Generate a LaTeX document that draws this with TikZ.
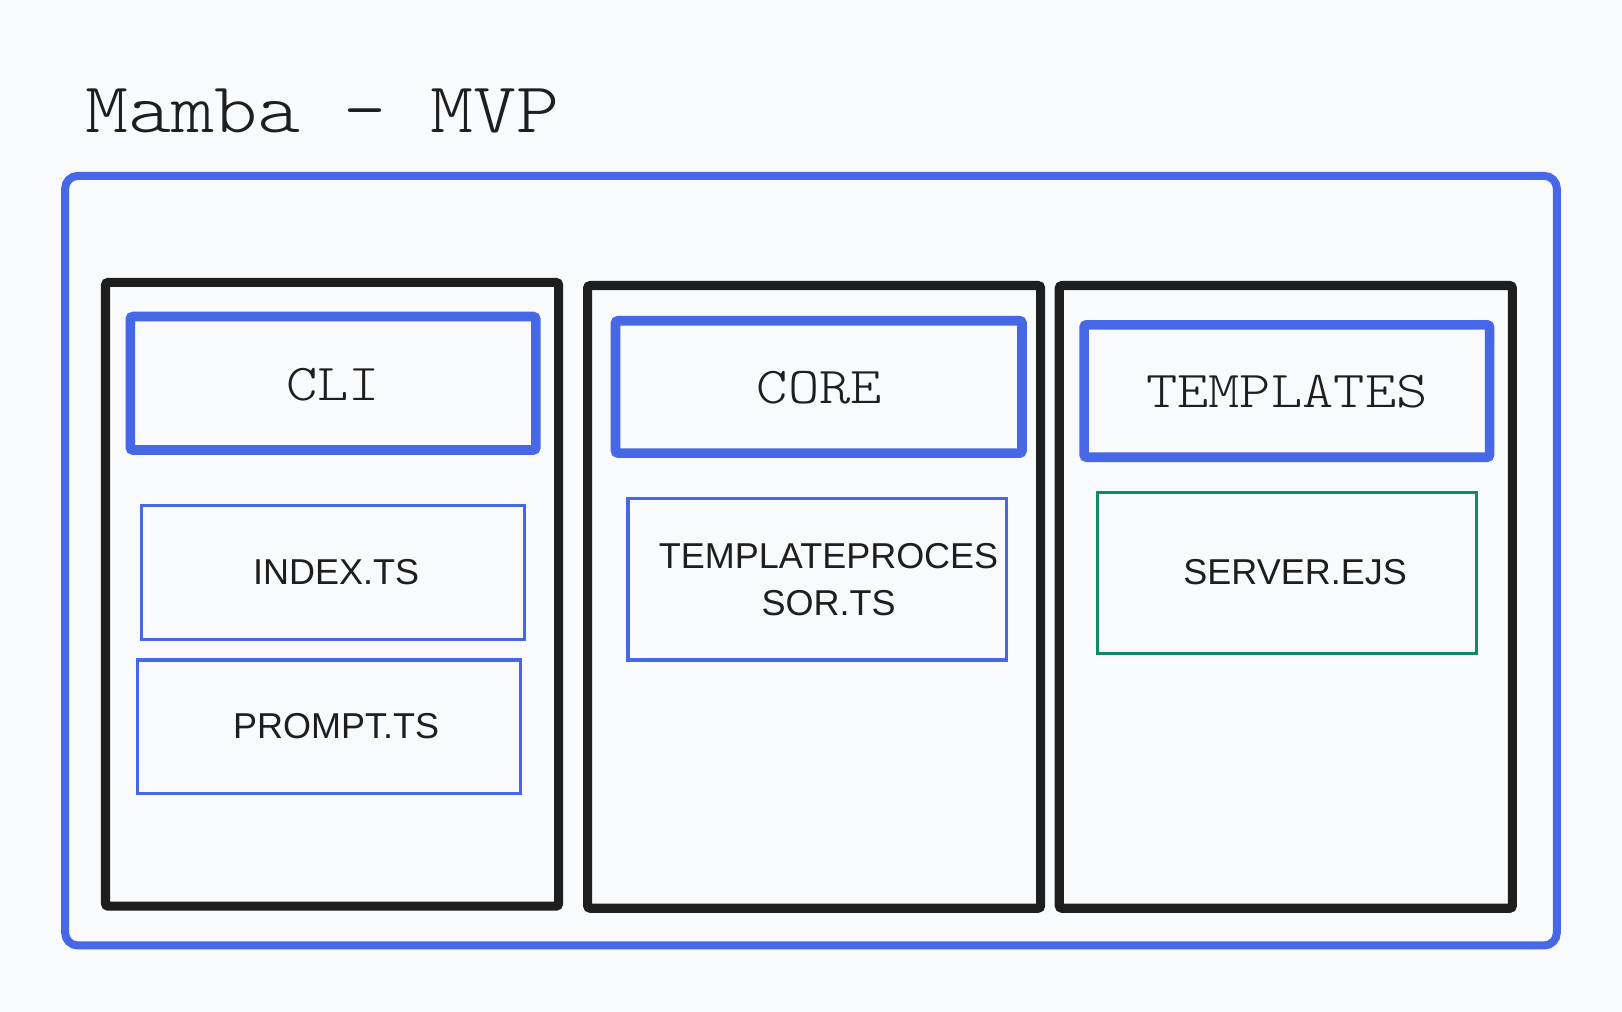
\documentclass[tikz,border=0pt]{standalone}
\usepackage{fontspec}
\setmainfont{Liberation Sans}
\newfontfamily\courierfont[FakeStretch=1.15]{lmmonolt10-regular.otf}
\definecolor{bgwhite}{RGB}{249,250,252}
\definecolor{boxblue}{RGB}{70,104,230}
\definecolor{inkblack}{RGB}{30,30,30}
\definecolor{boxgreen}{RGB}{16,138,98}

\begin{document}
\begin{tikzpicture}[x=0.02cm, y=-0.02cm,
	outerbox/.style={draw=boxblue, line width=4.4pt, rounded corners=7pt},
	colbox/.style={draw=inkblack, line width=5pt, rounded corners=1.5pt},
	headbox/.style={draw=boxblue, line width=5.3pt, rounded corners=1.5pt},
	filebox/.style={draw=boxblue, line width=1.8pt},
	headtext/.style={text=inkblack, font=\courierfont\fontsize{28.5}{34}\selectfont},
	filetext/.style={text=inkblack, font=\fontsize{19.8}{26}\selectfont, align=center}]
	\fill[bgwhite] (0,0) rectangle (1568,978);
	\useasboundingbox (0,0) rectangle (1568,978);
	\node[anchor=base west, inner sep=0pt, text=inkblack, font=\courierfont\fontsize{39.3}{48}\selectfont] (title) at (82,128) {Mamba - MVP};
	\draw[outerbox] (63,170) rectangle (1505,914);
	% the three columns
	\draw[colbox] (102,273) rectangle (540,876);
	\draw[colbox] (568,276) rectangle (1006,878);
	\draw[colbox] (1024,276) rectangle (1462,878);
	% headers
	\draw[headbox] (126,306) rectangle (518,435);
	\draw[headbox] (595,310) rectangle (988,438);
	\draw[headbox] (1048,314) rectangle (1440,442);
	\node[headtext] (cli) at (322,372) {CLI};
	\node[headtext] (core) at (792,375) {CORE};
	\node[headtext] (templates) at (1244,379) {TEMPLATES};
	% files
	\draw[filebox] (137,489) rectangle (507,618);
	\draw[filebox] (133,638) rectangle (503,767);
	\draw[filebox] (607,482) rectangle (973,638);
	\draw[filebox, draw=boxgreen] (1061,476) rectangle (1427,632);
	\node[filetext] (index) at (325,553) {INDEX.TS};
	\node[filetext] (prompt) at (325,702) {PROMPT.TS};
	\node[filetext] (tproc) at (801,560) {TEMPLATEPROCES\\SOR.TS};
	\node[filetext] (server) at (1252,553) {SERVER.EJS};
\end{tikzpicture}
\end{document}
